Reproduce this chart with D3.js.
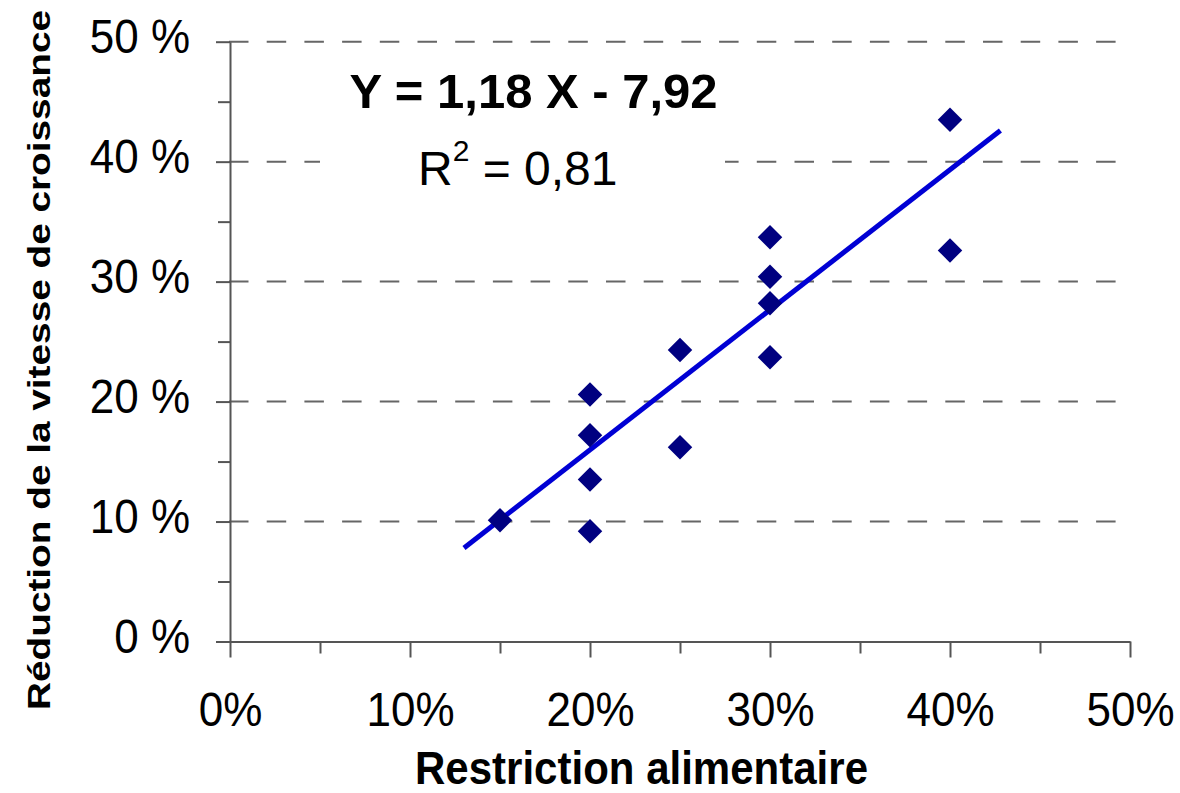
<!DOCTYPE html>
<html>
<head>
<meta charset="utf-8">
<script src="https://cdn.jsdelivr.net/npm/d3@7"></script>
<style>
  body { margin: 0; background: #fff; }
  text { font-family: "Liberation Sans", Arial, sans-serif; fill: #000; }
</style>
</head>
<body>
<svg id="main" width="1180" height="793"></svg>
<script>
// data (percent)
const restriction = [15, 20, 20, 20, 20, 25, 25, 30, 30, 30, 30, 40, 40];
const reduction   = [10.1, 20.6, 17.2, 13.5, 9.2, 24.3, 16.2, 33.7, 30.4, 28.2, 23.7, 43.5, 32.6];
const trendX = [13.0, 42.8];
const trendY = [7.8, 42.6];
const majorTicks = [0, 10, 20, 30, 40, 50];
const minorTicks = [5, 15, 25, 35, 45];
const gridTicks = [10, 20, 30, 40, 50];
const equation = "Y = 1,18 X - 7,92";
const r2Value = "= 0,81";

const svg = d3.select('#main');

let x = d3.scaleLinear().domain([0, 50]).range([230, 1130]);
let y = d3.scaleLinear().domain([0, 50]).range([641.5, 41.7]);

// dashed gridlines
svg.append('g').selectAll('line').data(gridTicks).join('line')
  .attr('x1', 229).attr('x2', 1116)
  .attr('y1', d => y(d)).attr('y2', d => y(d))
  .attr('stroke', '#666').attr('stroke-width', 2)
  .attr('stroke-dasharray', '19.5,18.2');

// white box behind the equation
svg.append('rect')
  .attr('x', 320).attr('y', 55).attr('width', 405).attr('height', 145)
  .attr('fill', '#fff');

// y axis
let yAxis = svg.append('g').attr('transform', `translate(${x(0)},0)`)
  .call(d3.axisLeft(y).tickValues(majorTicks).tickSize(14).tickSizeOuter(0)
    .tickFormat(d => d + ' %'));
yAxis.append('g').call(d3.axisLeft(y).tickValues(minorTicks).tickSize(12).tickFormat(''))
  .select('.domain').remove();

// x axis
let xAxis = svg.append('g').attr('transform', `translate(0,${y(0)})`)
  .call(d3.axisBottom(x).tickValues(majorTicks).tickSize(16).tickSizeOuter(0)
    .tickFormat(d => d + '%'));
xAxis.append('g').call(d3.axisBottom(x).tickValues(minorTicks).tickSize(12).tickFormat(''))
  .select('.domain').remove();

svg.selectAll('.domain, .tick line').attr('stroke', '#555').attr('stroke-width', 2);

yAxis.selectAll('.tick text')
  .attr('x', 0).attr('dy', null).attr('y', 0)
  .attr('text-anchor', 'end')
  .attr('transform', 'translate(-40,11) scale(1,1.08)')
  .style('font-size', '44px');

xAxis.selectAll('.tick text')
  .attr('y', 0).attr('dy', null)
  .attr('transform', 'translate(0,84.5) scale(1,1.08)')
  .style('font-size', '44px');

// trend line
svg.append('path')
  .datum(trendX.map((d, i) => [d, trendY[i]]))
  .attr('d', d3.line().x(d => x(d[0])).y(d => y(d[1])))
  .attr('fill', 'none')
  .attr('stroke', '#0000d4')
  .attr('stroke-width', 5);

// diamonds
svg.append('g').selectAll('path').data(restriction).join('path')
  .attr('d', d3.symbol().type(d3.symbolSquare).size(300))
  .attr('transform', (d, i) => `translate(${x(d)},${y(reduction[i])}) rotate(45)`)
  .attr('fill', '#000080');

// equation texts
svg.append('text')
  .attr('x', 533.5).attr('y', 108)
  .attr('text-anchor', 'middle')
  .style('font-size', '49px').style('font-weight', 'bold')
  .text(equation);

let r2 = svg.append('text')
  .attr('x', 418).attr('y', 185)
  .style('font-size', '48px');
r2.append('tspan').text('R');
r2.append('tspan').attr('dy', -24).style('font-size', '30px').text('2');
r2.append('tspan').attr('dy', 24).text(' ' + r2Value);

// axis titles
svg.append('text')
  .attr('x', 641.5).attr('y', 784)
  .attr('text-anchor', 'middle')
  .attr('textLength', 453).attr('lengthAdjust', 'spacingAndGlyphs')
  .style('font-size', '47px').style('font-weight', 'bold')
  .text('Restriction alimentaire');

svg.append('text')
  .attr('transform', 'translate(50,360) rotate(-90)')
  .attr('text-anchor', 'middle')
  .attr('textLength', 700).attr('lengthAdjust', 'spacingAndGlyphs')
  .style('font-size', '31px').style('font-weight', 'bold')
  .text('Réduction de la vitesse de croissance');
</script>
</body>
</html>
